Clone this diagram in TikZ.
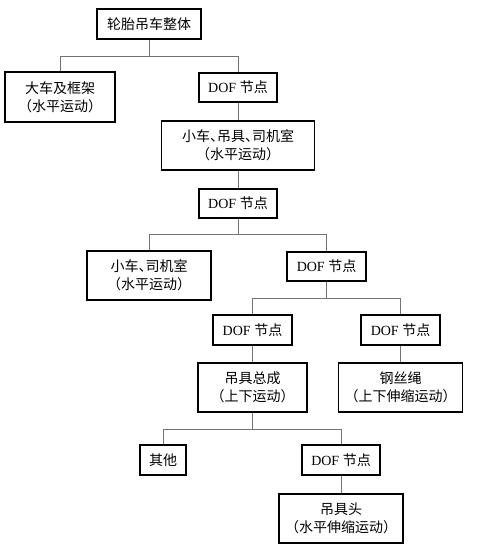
\documentclass[tikz,border=0pt]{standalone}
\usepackage{fontspec}
\setmainfont{Liberation Serif}
\newfontfamily\cjk{Noto Sans CJK SC}
\usepackage{tikz}
\usetikzlibrary{calc}

\newcommand{\dof}{DOF {\cjk 节点}}
\newcommand{\dun}{\makebox[0.5em][l]{\cjk 、}}
\newcommand{\lpar}{\makebox[0.65em][r]{\cjk （}}
\newcommand{\rpar}{\makebox[0.65em][l]{\cjk ）}}

\begin{document}
\begin{tikzpicture}[x=1pt, y=-1pt,
    box/.style={draw=black, line width=1.2pt, align=center, inner sep=0pt,
        font=\fontsize{14}{18}\selectfont},
    link/.style={draw=black!55, line width=0.6pt}]
    \useasboundingbox (0,0) rectangle (483,549);

    % boxes
    \node[box, minimum width=104pt, minimum height=30pt] (R) at (149,24)
        {\cjk 轮胎吊车整体};
    \node[box, minimum width=110pt, minimum height=50pt] (F) at (60,97)
        {\cjk 大车及框架\\\lpar{\cjk 水平运动}\rpar};
    \node[box, minimum width=78pt, minimum height=29pt] (D1) at (238,87.5) {\dof};
    \node[box, minimum width=153pt, minimum height=49pt] (T) at (238,145.5)
        {{\cjk 小车}\dun{\cjk 吊具}\dun{\cjk 司机室}\\\lpar{\cjk 水平运动}\rpar};
    \node[box, minimum width=78pt, minimum height=29pt] (D2) at (238,203.5) {\dof};
    \node[box, minimum width=124pt, minimum height=49pt] (C) at (149,275.5)
        {{\cjk 小车}\dun{\cjk 司机室}\\\lpar{\cjk 水平运动}\rpar};
    \node[box, minimum width=79pt, minimum height=29pt] (D3) at (326.5,266.5) {\dof};
    \node[box, minimum width=79pt, minimum height=30pt] (D4) at (252.5,330) {\dof};
    \node[box, minimum width=79pt, minimum height=30pt] (D5) at (400.5,330) {\dof};
    \node[box, minimum width=109pt, minimum height=49pt] (S) at (252.5,387.5)
        {\cjk 吊具总成\\\lpar{\cjk 上下运动}\rpar};
    \node[box, minimum width=124pt, minimum height=49pt] (W) at (400.5,387.5)
        {\cjk 钢丝绳\\\lpar{\cjk 上下伸缩运动}\rpar};
    \node[box, minimum width=46pt, minimum height=30pt] (O) at (163,460)
        {\cjk 其他};
    \node[box, minimum width=78pt, minimum height=30pt] (D6) at (341,460) {\dof};
    \node[box, minimum width=124pt, minimum height=49pt] (H) at (341,518.5)
        {\cjk 吊具头\\\lpar{\cjk 水平伸缩运动}\rpar};

    % links
    \draw[link] (R.south) -- ++(0,17) -| (F.north);
    \draw[link] (R.south) -- ++(0,17) -| (D1.north);
    \draw[link] (D1.south) -- (T.north);
    \draw[link] (T.south) -- (D2.north);
    \draw[link] (D2.south) -- ++(0,16) -| (C.north);
    \draw[link] (D2.south) -- ++(0,16) -| (D3.north);
    \draw[link] (D3.south) -- ++(0,17) -| (D4.north);
    \draw[link] (D3.south) -- ++(0,17) -| (D5.north);
    \draw[link] (D4.south) -- (S.north);
    \draw[link] (D5.south) -- (W.north);
    \draw[link] (S.south) -- ++(0,17) -| (O.north);
    \draw[link] (S.south) -- ++(0,17) -| (D6.north);
    \draw[link] (D6.south) -- (H.north);
\end{tikzpicture}
\end{document}
